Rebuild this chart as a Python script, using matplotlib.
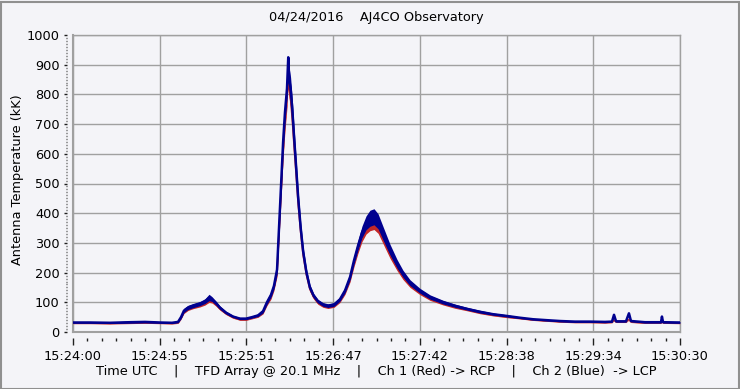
import matplotlib
matplotlib.use("Agg")
import matplotlib.pyplot as plt
from matplotlib.ticker import FixedLocator, MultipleLocator
from matplotlib.patches import Rectangle

# ---- data (seconds after 15:24:00, antenna temperature in kK) ----
times = [0, 10.9, 23.8, 36.6, 46.3, 55.9, 63.6, 67.5, 69.4, 71.3, 73.9, 77.1,
         81.6, 84.8, 87.4, 89.3, 91.9, 94.4, 98.3, 102.8, 107.3, 111.2, 115.0,
         118.9, 122.1, 124.6, 127.2, 129.1, 131.1, 131.9, 133.0, 134.0, 135.0,
         136.2, 137.5, 138.3, 138.9, 139.8, 140.9, 142.0, 143.3, 144.7, 146.3,
         147.9, 150.0, 152.2, 154.6, 157.4, 160.6, 163.8, 167.7, 171.5, 174.8,
         178.0, 180.5, 183.1, 185.7, 188.3, 190.8, 193.4, 196.0, 199.2, 203.7,
         208.2, 212.0, 216.5, 222.9, 229.4, 237.7, 245.4, 253.1, 261.5, 269.8,
         278.8, 287.2, 295.5, 303.9, 312.9, 322.5, 332.2, 341.8, 346.3, 347.6,
         348.9, 355.3, 357.2, 358.5, 367.5, 377.8, 378.4, 379.1, 390.0]

blue = [32, 32, 31, 33, 34, 32, 31, 34, 50, 72, 82, 88,
        95, 103, 115, 110, 97, 82, 65, 52, 45, 45, 50,
        56, 70, 100, 125, 155, 210, 300, 420, 530, 640,
        740, 820, 925, 850, 820, 750, 660, 560, 450, 350,
        270, 200, 150, 122, 103, 92, 88, 92, 110, 140,
        185, 240, 290, 335, 365, 380, 385, 370, 330, 275,
        228, 195, 165, 138, 117, 100, 88, 78, 68, 60,
        54, 48, 43, 40, 37, 35, 35, 34, 35, 58,
        36, 36, 63, 37, 33, 33, 52, 33, 32]

red = [30, 30, 29, 31, 32, 30, 29, 31, 47, 68, 78, 84,
       90, 97, 108, 104, 92, 78, 62, 49, 42, 42, 47,
       53, 66, 95, 118, 148, 200, 285, 400, 505, 610,
       705, 785, 870, 815, 785, 715, 630, 535, 430, 335,
       258, 192, 144, 117, 98, 88, 84, 88, 105, 134,
       177, 230, 278, 320, 348, 362, 366, 352, 315, 262,
       218, 186, 158, 132, 112, 96, 84, 75, 65, 57,
       51, 46, 41, 38, 35, 33, 33, 32, 33, 40,
       34, 34, 42, 34, 31, 31, 36, 31, 30]

# half-width of the noise band
spread = [3, 3, 3, 4, 4, 3, 3, 3, 6, 8, 8, 8,
          8, 9, 12, 9, 7, 6, 5, 4, 4, 4, 4,
          5, 7, 9, 10, 12, 18, 22, 28, 32, 36,
          38, 40, 5, 40, 38, 35, 32, 28, 24, 20,
          16, 13, 10, 8, 7, 7, 7, 7, 8, 10,
          12, 15, 18, 22, 26, 30, 30, 28, 25, 20,
          16, 13, 11, 9, 8, 7, 6, 5, 5, 4,
          4, 3, 3, 3, 3, 3, 3, 3, 3, 2,
          3, 3, 2, 3, 3, 3, 2, 3, 3]

xtick_pos = [0, 55.71, 111.43, 167.14, 222.86, 278.57, 334.29, 390.0]
xtick_labels = ["15:24:00", "15:24:55", "15:25:51", "15:26:47",
                "15:27:42", "15:28:38", "15:29:34", "15:30:30"]

BG = "#f4f4f8"
GRID = "#a0a0a0"
BLUE = "#00008f"
RED = "#c42828"

fig = plt.figure(figsize=(7.40, 3.89), dpi=100, facecolor=BG)
W, H = 740, 389
ax = fig.add_axes([73 / W, 1 - 332 / H, (680 - 73) / W, (332 - 35) / H])
ax.set_facecolor(BG)

red_lo = [r - s * 0.7 for r, s in zip(red, spread)]
red_hi = list(red)
blue_lo = [b - s * 0.8 for b, s in zip(blue, spread)]
blue_hi = [b + s for b, s in zip(blue, spread)]

ax.fill_between(times, red_lo, red_hi, color=RED, lw=0, zorder=3)
ax.plot(times, red, color=RED, lw=1.2, zorder=3)
ax.fill_between(times, blue_lo, blue_hi, color=BLUE, lw=0, zorder=4)
ax.plot(times, blue, color=BLUE, lw=1.8, zorder=4)

ax.set_xlim(0, 390)
ax.set_ylim(0, 1000)

ax.set_xticks(xtick_pos)
ax.set_xticklabels(xtick_labels)
minor_x = []
for i in range(len(xtick_pos) - 1):
    step = (xtick_pos[i + 1] - xtick_pos[i]) / 6
    minor_x += [xtick_pos[i] + step * k for k in range(1, 6)]
ax.xaxis.set_minor_locator(FixedLocator(minor_x))
ax.yaxis.set_major_locator(MultipleLocator(100))
ax.yaxis.set_minor_locator(MultipleLocator(10))

ax.grid(True, which="major", color=GRID, lw=1.0, zorder=1)
for sp in ["top", "right"]:
    ax.spines[sp].set_color(GRID)
    ax.spines[sp].set_linewidth(1.0)
for sp in ["left", "bottom"]:
    ax.spines[sp].set_position(("outward", 4))
    ax.spines[sp].set_visible(False)
ax.axhline(0, color=GRID, lw=1.5, zorder=2, clip_on=False)
ax.axvline(0, color=GRID, lw=1.5, zorder=2, clip_on=False)

ax.tick_params(axis="x", which="major", length=5, width=1, color="#202020",
               pad=4, labelsize=9.3)
ax.tick_params(axis="x", which="minor", length=2.2, width=1, color="#202020")
ax.tick_params(axis="y", which="major", length=2.2, width=1, color="#202020",
               pad=3.5, labelsize=9.3)
ax.tick_params(axis="y", which="minor", length=1, width=1, color="#404040")

fig.text(18 / W, 1 - 180 / H, "Antenna Temperature (kK)", rotation=90,
         ha="center", va="center", fontsize=9.3)
fig.text(376 / W, 1 - 18 / H, "04/24/2016    AJ4CO Observatory",
         ha="center", va="center", fontsize=9.3)
fig.text(376 / W, 1 - 372 / H,
         "Time UTC    |    TFD Array @ 20.1 MHz    |    Ch 1 (Red) -> RCP    |    Ch 2 (Blue)  -> LCP",
         ha="center", va="center", fontsize=9.3)

fig.patches.append(Rectangle((0.5 / W, 0.5 / H), 1 - 1.5 / W, 1 - 2.5 / H,
                             transform=fig.transFigure, fill=False,
                             edgecolor="#909090", lw=1.5))

fig.savefig("out.png", dpi=100, facecolor=BG)
